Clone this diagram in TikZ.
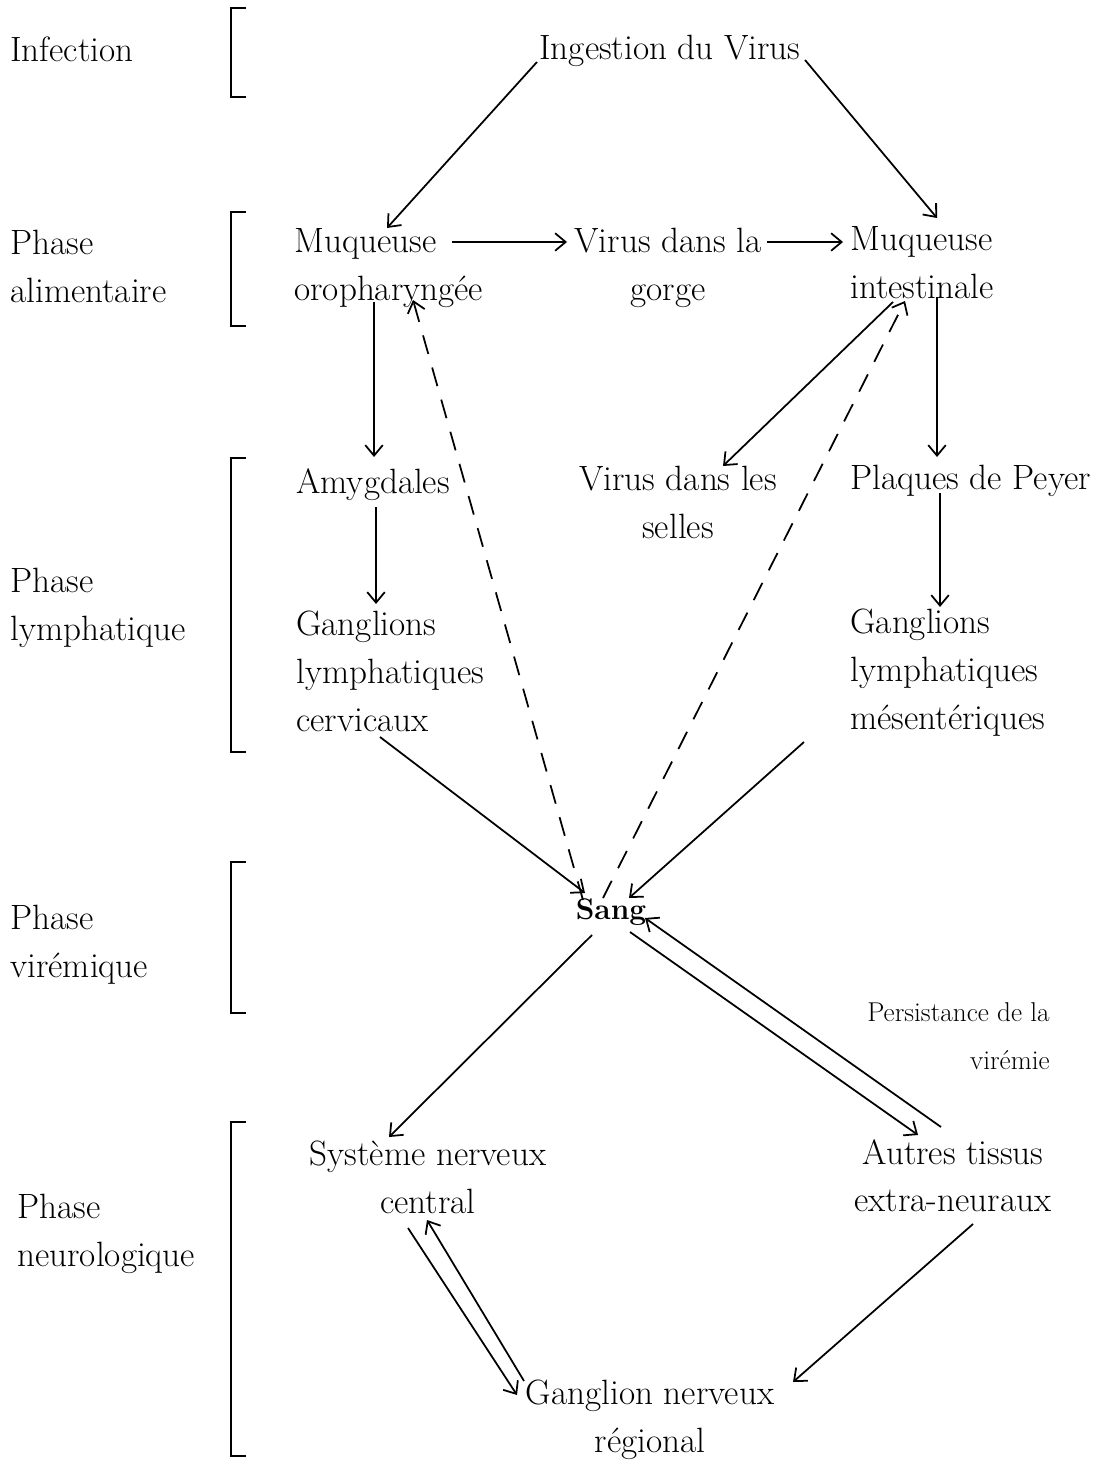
\documentclass[tikz,border=0pt]{standalone}
\usetikzlibrary{arrows.meta}
\tikzset{
	txt/.style={inner sep=0pt, font=\fontsize{20}{27.2}\selectfont},
	small/.style={inner sep=0pt, font=\fontsize{15.5}{27.2}\selectfont},
	arr/.style={line width=1pt, -{Straight Barb[length=6pt,width=10pt]}},
	dasharr/.style={arr, dash pattern=on 11pt off 8pt},
	brk/.style={line width=1.2pt}
}
\begin{document}
\begin{tikzpicture}[x=0.02cm, y=-0.02cm]
				\useasboundingbox (0,0) rectangle (1096,1462);
				% phases
				\node [txt, anchor=north west] (lInf) at (10,36) {Infection};
				\node [txt, anchor=north west, align=left] (lAli) at (10,230) {Phase\\alimentaire};
				\node [txt, anchor=north west, align=left] (lLym) at (10,568) {Phase\\lymphatique};
				\node [txt, anchor=north west, align=left] (lVir) at (10,905) {Phase\\virémique};
				\node [txt, anchor=north west, align=left] (lNeu) at (17,1194) {Phase\\neurologique};
				\foreach \a/\b in {8/97, 212/326, 458/752, 862/1013, 1122/1456}
					\draw [brk] (246,\a) -- (231,\a) -- (231,\b) -- (246,\b);
				% steps
				\node [txt, anchor=north] (ing) at (670,35) {Ingestion du Virus};
				\node [txt, anchor=north west, align=left] (mo) at (294,228) {Muqueuse\\oropharyngée};
				\node [txt, anchor=north, align=center] (vg) at (668,228) {Virus dans la\\gorge};
				\node [txt, anchor=north west, align=left] (mi) at (850,226) {Muqueuse\\intestinale};
				\node [txt, anchor=north west] (amy) at (296,468) {Amygdales};
				\node [txt, anchor=north, align=center] (vs) at (678,466) {Virus dans les\\selles};
				\node [txt, anchor=north west] (pp) at (850,465) {Plaques de Peyer};
				\node [txt, anchor=north west, align=left] (gc) at (296,611) {Ganglions\\lymphatiques\\cervicaux};
				\node [txt, anchor=north west, align=left] (gm) at (850,609) {Ganglions\\lymphatiques\\mésentériques};
				\node [inner sep=0pt, font=\fontsize{17}{20}\selectfont\bfseries] (sang) at (611,912) {Sang};
				\node [small, anchor=north east, align=right] (pers) at (1050,1002) {Persistance de la\\virémie};
				\node [txt, anchor=north, align=center] (snc) at (428,1141) {Système nerveux\\central};
				\node [txt, anchor=north, align=center] (at) at (953,1139) {Autres tissus\\extra-neuraux};
				\node [txt, anchor=north, align=center] (gn) at (650,1380) {Ganglion nerveux\\régional};
				% arrows
				\draw [arr] ([shift={(-133,27)}]ing.north) -- ([shift={(93,0)}]mo.north west);
				\draw [arr] ([shift={(135,25)}]ing.north) -- ([shift={(87,-8)}]mi.north west);
				\draw [arr] ([shift={(158,14)}]mo.north west) -- ([shift={(-101,14)}]vg.north);
				\draw [arr] ([shift={(99,14)}]vg.north) -- ([shift={(-7,16)}]mi.north west);
				\draw [arr] ([shift={(80,74)}]mo.north west) -- ([shift={(78,-11)}]amy.north west);
				\draw [arr] ([shift={(80,39)}]amy.north west) -- ([shift={(80,-7)}]gc.north west);
				\draw [arr] ([shift={(87,71)}]mi.north west) -- ([shift={(87,-8)}]pp.north west);
				\draw [arr] ([shift={(90,28)}]pp.north west) -- ([shift={(90,-2)}]gm.north west);
				\draw [arr] ([shift={(43,76)}]mi.north west) -- ([shift={(45,0)}]vs.north);
				\draw [arr] ([shift={(84,126)}]gc.north west) -- ([shift={(-26,-19)}]sang.center);
				\draw [arr] ([shift={(-46,133)}]gm.north west) -- ([shift={(18,-14)}]sang.center);
				\draw [dasharr] ([shift={(-28,-12)}]sang.center) -- ([shift={(119,72)}]mo.north west);
				\draw [dasharr] ([shift={(-8,-14)}]sang.center) -- ([shift={(55,75)}]mi.north west);
				\draw [arr] ([shift={(-19,23)}]sang.center) -- ([shift={(-39,-4)}]snc.north);
				\draw [arr] ([shift={(19,20)}]sang.center) -- ([shift={(-35,-4)}]at.north);
				\draw [arr] ([shift={(-12,-12)}]at.north) -- ([shift={(34,6)}]sang.center);
				\draw [arr] ([shift={(20,85)}]at.north) -- ([shift={(143,2)}]gn.north);
				\draw [arr] ([shift={(-20,87)}]snc.north) -- ([shift={(-133,15)}]gn.north);
				\draw [arr] ([shift={(-126,1)}]gn.north) -- ([shift={(-1,79)}]snc.north);
			\end{tikzpicture}
\end{document}
